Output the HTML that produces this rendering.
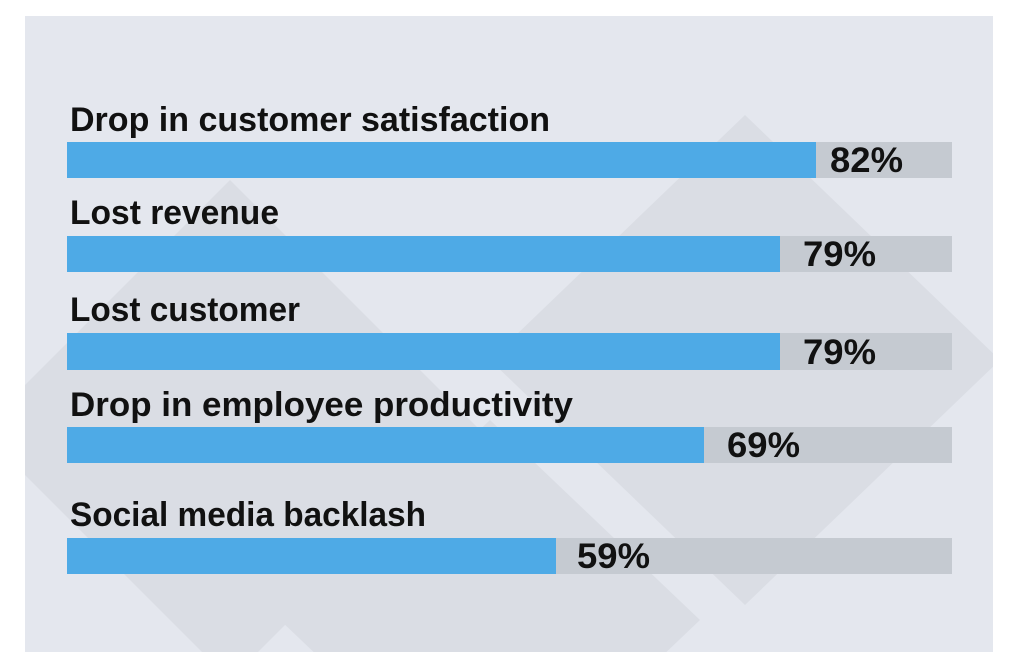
<!DOCTYPE html>
<html><head><meta charset="utf-8"><style>html,body{margin:0;padding:0;background:#fff;width:1010px;height:668px;overflow:hidden}svg{display:block}</style></head>
<body>
<svg width="1010" height="668" viewBox="0 0 1010 668" xmlns="http://www.w3.org/2000/svg" font-family="Liberation Sans, sans-serif" font-weight="bold" fill="#111">
<defs><clipPath id="c"><rect x="25" y="16" width="968" height="636"/></clipPath></defs>
<rect x="25" y="16" width="968" height="636" fill="#e4e7ee"/>
<g clip-path="url(#c)" fill="#dadde4">
<polygon points="745,115 1000,360 745,605 490,360"/>
<polygon points="230,180 480,430 230,680 -20,430"/>
<polygon points="490,420 700,620 490,820 280,620"/>
</g>
<g>
<rect x="67" y="142" width="885" height="36" fill="#c5cad1"/><rect x="67" y="142" width="749" height="36" fill="#4eaae6"/>
<rect x="67" y="236" width="885" height="36" fill="#c5cad1"/><rect x="67" y="236" width="713" height="36" fill="#4eaae6"/>
<rect x="67" y="333" width="885" height="37" fill="#c5cad1"/><rect x="67" y="333" width="713" height="37" fill="#4eaae6"/>
<rect x="67" y="427" width="885" height="36" fill="#c5cad1"/><rect x="67" y="427" width="637" height="36" fill="#4eaae6"/>
<rect x="67" y="538" width="885" height="36" fill="#c5cad1"/><rect x="67" y="538" width="489" height="36" fill="#4eaae6"/>
</g>
<g font-size="34" font-weight="600">
<text x="70" y="131" textLength="480" lengthAdjust="spacingAndGlyphs">Drop in customer satisfaction</text>
<text x="70" y="224" textLength="209" lengthAdjust="spacingAndGlyphs">Lost revenue</text>
<text x="70" y="321" textLength="230" lengthAdjust="spacingAndGlyphs">Lost customer</text>
<text x="70" y="416" textLength="503" lengthAdjust="spacingAndGlyphs">Drop in employee productivity</text>
<text x="70" y="526" textLength="356" lengthAdjust="spacingAndGlyphs">Social media backlash</text>
</g>
<g font-size="35">
<text x="830" y="172" textLength="73" lengthAdjust="spacingAndGlyphs">82%</text>
<text x="803" y="266" textLength="73" lengthAdjust="spacingAndGlyphs">79%</text>
<text x="803" y="364" textLength="73" lengthAdjust="spacingAndGlyphs">79%</text>
<text x="727" y="457" textLength="73" lengthAdjust="spacingAndGlyphs">69%</text>
<text x="577" y="568" textLength="73" lengthAdjust="spacingAndGlyphs">59%</text>
</g>
</svg>
</body></html>
